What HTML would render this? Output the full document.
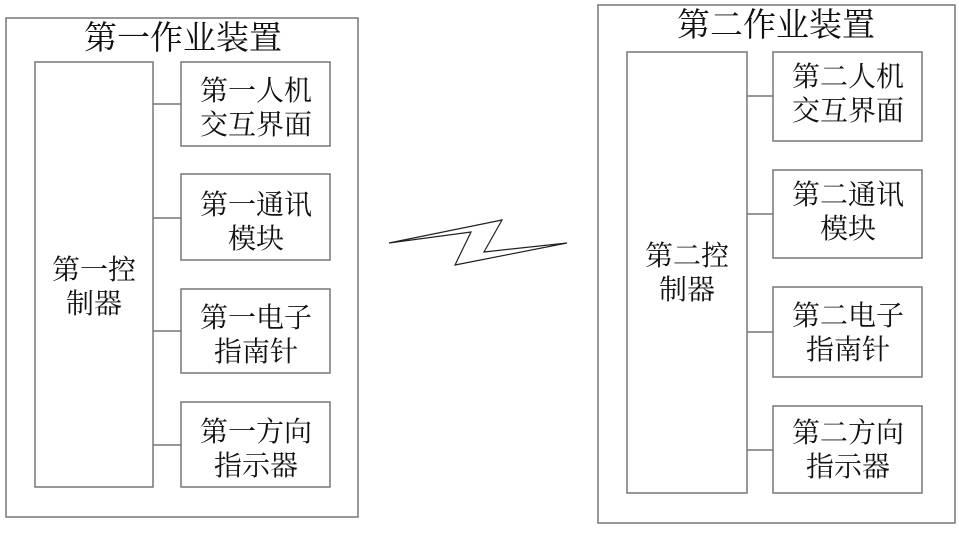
<!DOCTYPE html>
<html><head><meta charset="utf-8"><style>
body{margin:0;background:#fff;}
svg text{font-family:"Noto Serif CJK SC","Noto Sans CJK SC",serif;fill:#111;}
</style></head><body>
<svg width="959" height="545" xmlns="http://www.w3.org/2000/svg">
<g fill="none" stroke="#777" stroke-width="1.5">
<rect x="6" y="18" width="352" height="499"/>
<rect x="35" y="62" width="118" height="425"/>
<rect x="181" y="62" width="149" height="84"/>
<rect x="181" y="174" width="149" height="86"/>
<rect x="181" y="289" width="149" height="84"/>
<rect x="181" y="402" width="149" height="85"/>
<line x1="153" y1="104" x2="181" y2="104"/>
<line x1="153" y1="218" x2="181" y2="218"/>
<line x1="153" y1="331" x2="181" y2="331"/>
<line x1="153" y1="445" x2="181" y2="445"/>
<rect x="598" y="5" width="357" height="518"/>
<rect x="627" y="52" width="120" height="441"/>
<rect x="773" y="52" width="149" height="89"/>
<rect x="773" y="170" width="149" height="88"/>
<rect x="773" y="287" width="149" height="90"/>
<rect x="773" y="406" width="149" height="87"/>
<line x1="747" y1="96" x2="773" y2="96"/>
<line x1="747" y1="214" x2="773" y2="214"/>
<line x1="747" y1="332" x2="773" y2="332"/>
<line x1="747" y1="450" x2="773" y2="450"/>
</g>
<path d="M389,243 L471,232 L455,265 L567,243 L484,252 L502,220 Z" fill="none" stroke="#222" stroke-width="1.2"/>
<g font-size="33" text-anchor="middle">
<text x="183" y="49">第一作业装置</text>
<text x="776" y="36">第二作业装置</text>
</g>
<g font-size="28" text-anchor="middle">
<text x="94" y="279">第一控</text><text x="94" y="313">制器</text>
<text x="256" y="100">第一人机</text><text x="256" y="134">交互界面</text>
<text x="256" y="214">第一通讯</text><text x="256" y="248">模块</text>
<text x="256" y="327">第一电子</text><text x="256" y="361">指南针</text>
<text x="256" y="441">第一方向</text><text x="256" y="475">指示器</text>
<text x="687" y="265">第二控</text><text x="687" y="299">制器</text>
<text x="848" y="86">第二人机</text><text x="848" y="120">交互界面</text>
<text x="848" y="204">第二通讯</text><text x="848" y="238">模块</text>
<text x="848" y="325">第二电子</text><text x="848" y="359">指南针</text>
<text x="848" y="442">第二方向</text><text x="848" y="476">指示器</text>
</g>
</svg>
</body></html>
